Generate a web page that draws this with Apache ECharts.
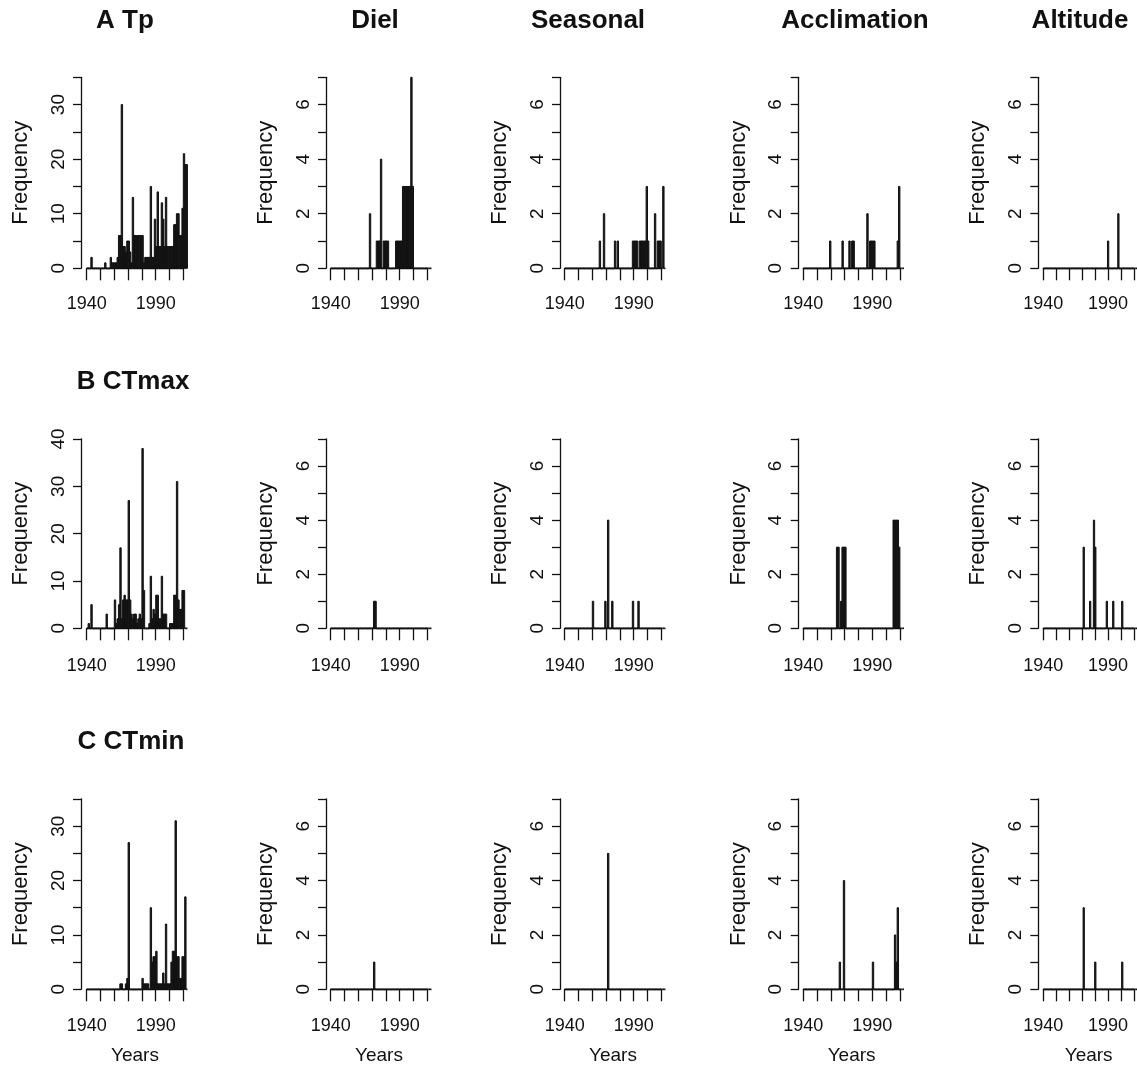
<!DOCTYPE html>
<html>
<head>
<meta charset="utf-8">
<script src="https://cdn.jsdelivr.net/npm/echarts@6/dist/echarts.min.js"></script>
<style>
  html, body { margin: 0; background: #fff; }
  #chart { width: 1137px; height: 1075px; }
</style>
</head>
<body>
<div id="chart"></div>
<script>
// yearly bins, first bin = 1940, last bin = 2012
const FIRST_YEAR = 1940
const LAST_YEAR = 2012

// all studies per year (first column)
const tpAll = [0,0,0,2,0,0,0,0,0,0, 0,0,0,1,0,0,0,2,1,1, 1,1,2,6,6,30,4,4,3,5,
  5,3,1,13,6,6,6,6,6,6, 6,1,2,2,2,2,15,2,2,9, 4,14,4,4,12,9,4,13,4,4,
  4,4,4,8,8,10,10,6,6,11, 21,19,19]
const ctmaxAll = [0,1,0,5,0,0,0,0,0,0, 0,0,0,0,3,0,0,0,0,0, 6,1,2,5,17,2,6,7,6,6,
  27,6,3,2,3,3,1,2,3,2, 38,8,0,0,0,1,11,2,4,3, 7,7,2,2,11,3,3,3,0,0,
  1,1,1,7,7,31,6,4,4,8, 8,0,0]
const ctminAll = [0,0,0,0,0,0,0,0,0,0, 0,0,0,0,0,0,0,0,0,0, 0,0,0,0,1,1,0,0,1,2,
  27,0,0,0,0,0,0,0,0,0, 2,1,1,1,1,0,15,5,6,6, 7,1,1,1,1,3,1,12,1,1,
  1,5,7,7,31,6,6,2,2,6, 6,17,0]

// [year, count] for the sparse panels, other years are 0
const tpDiel = [[1968,2],[1973,1],[1974,1],[1975,1],[1976,4],[1978,1],[1979,1],[1980,1],[1981,1],
  [1987,1],[1988,1],[1989,1],[1990,1],[1991,1],[1992,3],[1993,3],[1994,3],[1995,3],[1996,3],[1997,3],[1998,7],[1999,3]]
const tpSeasonal = [[1965,1],[1968,2],[1976,1],[1978,1],[1989,1],[1990,1],[1991,1],[1992,1],[1994,1],[1995,1],
  [1996,1],[1997,1],[1998,1],[1999,3],[2000,1],[2005,2],[2007,1],[2008,1],[2009,1],[2011,3]]
const tpAcclimation = [[1959,1],[1968,1],[1973,1],[1975,1],[1976,1],[1986,2],[1988,1],[1989,1],[1990,1],[1991,1],[2008,1],[2009,3]]
const tpAltitude = [[1990,1],[1998,2]]

const ctmaxDiel = [[1971,1],[1972,1]]
const ctmaxSeasonal = [[1960,1],[1969,1],[1971,4],[1974,1],[1989,1],[1993,1]]
const ctmaxAcclimation = [[1964,3],[1965,3],[1967,1],[1968,3],[1969,3],[1970,3],[2005,4],[2006,4],[2007,4],[2008,4],[2009,3]]
const ctmaxAltitude = [[1971,3],[1976,1],[1979,4],[1980,3],[1989,1],[1994,1],[2001,1]]

const ctminDiel = [[1971,1]]
const ctminSeasonal = [[1971,5]]
const ctminAcclimation = [[1966,1],[1969,4],[1990,1],[2006,2],[2007,1],[2008,3]]
const ctminAltitude = [[1971,3],[1980,1],[2001,1]]

const rowTitles = ['A Tp', 'B CTmax', 'C CTmin']
const colTitles = ['Diel', 'Seasonal', 'Acclimation', 'Altitude']
const xTickLabels = [1940, 1990]

const binsFrom = pairs => {
  const out = new Array(LAST_YEAR - FIRST_YEAR + 1).fill(0)
  pairs.forEach(([y, v]) => { out[y - FIRST_YEAR] = v })
  return out
}

const panels = [
  [tpAll, binsFrom(tpDiel), binsFrom(tpSeasonal), binsFrom(tpAcclimation), binsFrom(tpAltitude)],
  [ctmaxAll, binsFrom(ctmaxDiel), binsFrom(ctmaxSeasonal), binsFrom(ctmaxAcclimation), binsFrom(ctmaxAltitude)],
  [ctminAll, binsFrom(ctminDiel), binsFrom(ctminSeasonal), binsFrom(ctminAcclimation), binsFrom(ctminAltitude)]
]
// y scale of the first column per row, the others go to 7
const firstColScale = [
  { max: 35, interval: 5, every: 10 },
  { max: 40, interval: 10, every: 10 },
  { max: 35, interval: 5, every: 10 }
]
const smallScale = { max: 7, interval: 1, every: 2 }

// layout (pixels)
const colX = [86.7, 330.7, 564.7, 803.3, 1043.3] // x of 1940
const colGap = [5.7, 4.7, 4.7, 4.6, 5]         // y axis left of 1940
const rowTop = [77.3, 439, 799]
const rowH = [191, 189.3, 190.3]
const rowXOff = [8, 10, 9]
const PX_YEAR = 1.38

const FONT = 'Liberation Sans, Arial, Helvetica, sans-serif'
const INK = '#111'

const grid = [], xAxis = [], yAxis = [], series = [], title = []

panels.forEach((row, r) => {
  row.forEach((bins, c) => {
    const sc = c === 0 ? firstColScale[r] : smallScale
    const g = grid.length
    // data grid: 1940 .. 2013
    grid.push({ left: colX[c], top: rowTop[r], width: (LAST_YEAR + 1 - FIRST_YEAR) * PX_YEAR, height: rowH[r] })
    xAxis.push({ gridIndex: g, type: 'value', min: FIRST_YEAR, max: LAST_YEAR + 1, show: false })
    yAxis.push({
      gridIndex: g, type: 'value', min: 0, max: sc.max, interval: sc.interval,
      offset: colGap[c],
      axisLine: { show: true, lineStyle: { color: INK, width: 1.3 } },
      axisTick: { show: true, inside: false, length: 8, lineStyle: { color: INK, width: 1.3 } },
      axisLabel: {
        rotate: 90, margin: 13, color: INK, fontSize: 19, fontFamily: FONT,
        showMinLabel: true, showMaxLabel: true, hideOverlap: false,
        formatter: v => (v % sc.every === 0 ? String(v) : '')
      },
      splitLine: { show: false },
      name: 'Frequency', nameLocation: 'middle', nameGap: 49,
      nameTextStyle: { color: INK, fontSize: 22, fontFamily: FONT }
    })
    series.push({
      type: 'custom', xAxisIndex: g, yAxisIndex: g, silent: true, animation: false,
      data: bins.map((v, i) => [FIRST_YEAR + i, v]),
      renderItem: (params, api) => {
        const y0 = api.value(0), v = api.value(1)
        const top = api.coord([y0, v])
        const bot = api.coord([y0 + 1, 0])
        if (v === 0) {
          return { type: 'line', shape: { x1: top[0], y1: bot[1], x2: bot[0], y2: bot[1] },
            style: { stroke: INK, lineWidth: 1.7 } }
        }
        return { type: 'rect', shape: { x: top[0], y: top[1], width: bot[0] - top[0], height: bot[1] - top[1] },
          style: { fill: '#1a1a1a', stroke: INK, lineWidth: 1 } }
      }
    })

    // axis grid: x axis from 1940 to 2010 below the bars
    const a = grid.length
    grid.push({ left: colX[c], top: rowTop[r], width: 70 * PX_YEAR, height: rowH[r] })
    xAxis.push({
      gridIndex: a, type: 'value', min: 1940, max: 2010, interval: 10, offset: rowXOff[r],
      axisLine: { show: true, lineStyle: { color: INK, width: 1.3 } },
      axisTick: { show: true, inside: false, length: 12, lineStyle: { color: INK, width: 1.3 } },
      axisLabel: {
        margin: 19, color: INK, fontSize: 18, fontFamily: FONT, hideOverlap: false,
        showMinLabel: true, showMaxLabel: true,
        formatter: v => (xTickLabels.includes(v) ? String(v) : '')
      },
      splitLine: { show: false },
      name: r === 2 ? 'Years' : '', nameLocation: 'middle', nameGap: 48,
      nameTextStyle: { color: INK, fontSize: 19, fontFamily: FONT }
    })
    yAxis.push({ gridIndex: a, type: 'value', min: 0, max: 1, show: false })
  })
})

// panel titles
const titleStyle = { color: INK, fontSize: 26, fontWeight: 'bold', fontFamily: FONT }
const topTitleX = [125, 375, 588, 855, 1080]
;[rowTitles[0]].concat(colTitles).forEach((t, i) => {
  title.push({ text: t, left: topTitleX[i], top: 8, textAlign: 'center', padding: 0, textStyle: titleStyle })
})
title.push({ text: rowTitles[1], left: 133, top: 369, textAlign: 'center', padding: 0, textStyle: titleStyle })
title.push({ text: rowTitles[2], left: 131, top: 729, textAlign: 'center', padding: 0, textStyle: titleStyle })

const chart = echarts.init(document.getElementById('chart'), null, { renderer: 'canvas' })
chart.setOption({
  backgroundColor: '#fff',
  animation: false,
  title, grid, xAxis, yAxis, series
})
</script>
</body>
</html>
